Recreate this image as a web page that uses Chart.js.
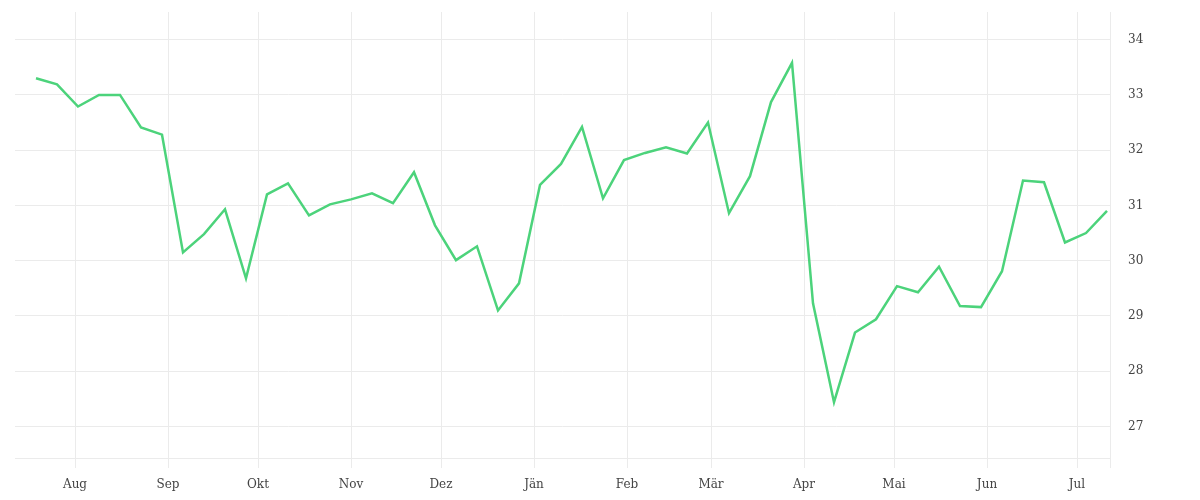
<!DOCTYPE html>
<html>
<head>
<meta charset="utf-8">
<script src="https://cdn.jsdelivr.net/npm/chart.js@4"></script>
<style>
  html, body { margin: 0; padding: 0; background: #fff; }
  #wrap { width: 1200px; height: 500px; }
</style>
</head>
<body>
<div id="wrap"><canvas id="chart"></canvas></div>
<script>
// weekly dates
const weeks = [
  "2022-07-19", "2022-07-26", "2022-08-02", "2022-08-09", "2022-08-16", "2022-08-23", "2022-08-30",
  "2022-09-06", "2022-09-13", "2022-09-20", "2022-09-27", "2022-10-04", "2022-10-11", "2022-10-18",
  "2022-10-25", "2022-11-01", "2022-11-08", "2022-11-15", "2022-11-22", "2022-11-29", "2022-12-06",
  "2022-12-13", "2022-12-20", "2022-12-27", "2023-01-03", "2023-01-10", "2023-01-17", "2023-01-24",
  "2023-01-31", "2023-02-07", "2023-02-14", "2023-02-21", "2023-02-28", "2023-03-07", "2023-03-14",
  "2023-03-21", "2023-03-28", "2023-04-04", "2023-04-11", "2023-04-18", "2023-04-25", "2023-05-02",
  "2023-05-09", "2023-05-16", "2023-05-23", "2023-05-30", "2023-06-06", "2023-06-13", "2023-06-20",
  "2023-06-27", "2023-07-04", "2023-07-11"
];

const values = [
  33.30, 33.19, 32.79, 33.00, 33.00, 32.41, 32.28,
  30.15, 30.48, 30.93, 29.68, 31.20, 31.40, 30.82,
  31.02, 31.11, 31.22, 31.04, 31.60, 30.64, 30.01,
  30.26, 29.10, 29.59, 31.37, 31.75, 32.42, 31.13,
  31.82, 31.95, 32.05, 31.94, 32.50, 30.86, 31.53,
  32.87, 33.58, 29.23, 27.44, 28.70, 28.94, 29.54,
  29.43, 29.89, 29.18, 29.16, 29.81, 31.45, 31.42,
  30.33, 30.50, 30.90
];

const monthStarts = [
  "2022-08-01", "2022-09-01", "2022-10-01", "2022-11-01", "2022-12-01", "2023-01-01",
  "2023-02-01", "2023-03-01", "2023-04-01", "2023-05-01", "2023-06-01", "2023-07-01"
];
const monthLabels = ["Aug", "Sep", "Okt", "Nov", "Dez", "Jän", "Feb", "Mär", "Apr", "Mai", "Jun", "Jul"];
const yTicks = [27, 28, 29, 30, 31, 32, 33, 34];

const rangeStart = "2022-07-12";
const rangeEnd = "2023-07-12";

// days since Aug 1
function dayNum(s) {
  const p = s.split("-").map(Number);
  return (Date.UTC(p[0], p[1] - 1, p[2]) - Date.UTC(2022, 7, 1)) / 86400000;
}

const points = weeks.map((w, i) => ({ x: dayNum(w), y: values[i] }));
const monthDays = monthStarts.map(dayNum);
const xMax = dayNum(rangeEnd);

const gridColor = "#ebebeb";
const font = { family: "'DejaVu Serif', serif", size: 12 };

new Chart(document.getElementById("chart"), {
  type: "line",
  data: {
    datasets: [
      {
        data: points,
        borderColor: "#4cd37b",
        borderWidth: 2.5,
        pointRadius: 0,
        tension: 0,
        fill: false,
      },
    ],
  },
  options: {
    responsive: true,
    maintainAspectRatio: false,
    animation: false,
    layout: { padding: { left: 15, top: 12, right: 0, bottom: 0 } },
    plugins: {
      legend: { display: false },
      tooltip: { enabled: false },
    },
    scales: {
      x: {
        type: "linear",
        min: dayNum(rangeStart),
        max: xMax,
        afterBuildTicks: (axis) => {
          axis.ticks = monthDays.concat([xMax]).map((v) => ({ value: v }));
        },
        afterFit: (axis) => {
          axis.height = 42;
          axis.paddingLeft = 0;
          axis.paddingRight = 0;
        },
        grid: { color: gridColor, tickLength: 10 },
        border: { color: gridColor },
        ticks: {
          autoSkip: false,
          maxRotation: 0,
          padding: 10,
          color: "#444",
          font: font,
          callback: (v) => {
            const i = monthDays.indexOf(v);
            return i >= 0 ? monthLabels[i] : "";
          },
        },
      },
      y: {
        position: "right",
        min: 26.43,
        max: 34.5,
        afterBuildTicks: (axis) => {
          axis.ticks = yTicks.map((v) => ({ value: v }));
        },
        afterFit: (axis) => {
          axis.width = 90;
          axis.paddingTop = 0;
          axis.paddingBottom = 0;
        },
        grid: { color: gridColor, drawTicks: false },
        border: { color: gridColor },
        ticks: {
          padding: 18,
          color: "#444",
          font: font,
        },
      },
    },
  },
});
</script>
</body>
</html>
